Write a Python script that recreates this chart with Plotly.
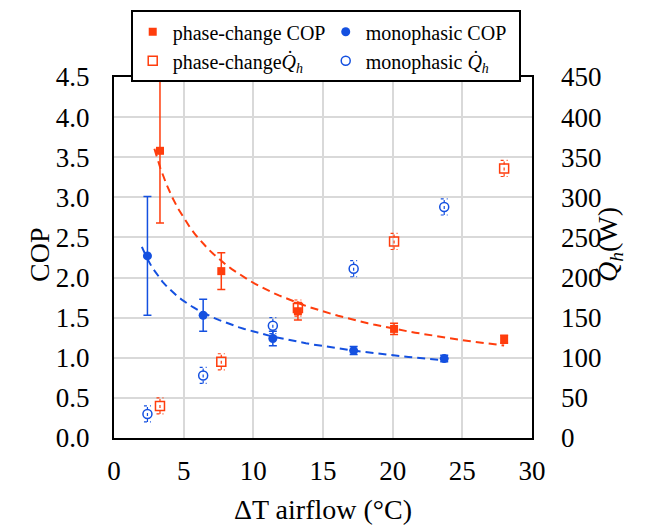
import numpy as np
import plotly.graph_objects as go

# ---- data ----
pc_dT = [3.3, 7.7, 13.2, 20.1, 28.0]
pc_cop = [3.58, 2.08, 1.58, 1.36, 1.23]
pc_cop_err = [0.90, 0.23, 0.11, 0.07, 0.05]
pc_q = [40, 95, 162, 245, 336]
pc_q_err = [10, 10, 10, 10, 10]

mo_dT = [2.4, 6.4, 11.4, 17.2, 23.7]
mo_cop = [2.27, 1.53, 1.24, 1.09, 0.99]
mo_cop_err = [0.74, 0.20, 0.09, 0.05, 0.04]
mo_q = [30, 78, 140, 211, 288]
mo_q_err = [10, 10, 10, 10, 10]

x_ticks = [0, 5, 10, 15, 20, 25, 30]

RED = "#FF3D0D"
BLUE = "#1450E0"
FONT = "Liberation Serif, Times New Roman, DejaVu Serif, serif"

fig = go.Figure()


def power_fit(x, y, back=0.4):
    b, ln_a = np.polyfit(np.log(x), np.log(y), 1)
    xs = np.linspace(x[0] - back, x[-1], 60)
    return xs, np.exp(ln_a) * xs ** b


def dotted_err(x, y, e, cap=0.25):
    xs, ys = [], []
    for xi, yi, ei in zip(x, y, e):
        xs += [xi, xi, None, xi - cap, xi + cap, None, xi - cap, xi + cap, None]
        ys += [yi - ei, yi + ei, None, yi + ei, yi + ei, None, yi - ei, yi - ei, None]
    return xs, ys


# trend lines
for x, y, c in [(pc_dT, pc_cop, RED), (mo_dT, mo_cop, BLUE)]:
    xs, ys = power_fit(x, y)
    fig.add_trace(go.Scatter(x=xs, y=ys, mode="lines", showlegend=False,
                             line=dict(color=c, width=2, dash="8px,5px"),
                             hoverinfo="skip"))

# dotted error bars for heat
for x, y, e, c in [(pc_dT, pc_q, pc_q_err, RED), (mo_dT, mo_q, mo_q_err, BLUE)]:
    xs, ys = dotted_err(x, y, e)
    fig.add_trace(go.Scatter(x=xs, y=ys, yaxis="y2", mode="lines", showlegend=False,
                             line=dict(color=c, width=1.2, dash="dot"), hoverinfo="skip"))

fig.add_trace(go.Scatter(
    x=pc_dT, y=pc_cop, mode="markers", name="phase-change COP",
    marker=dict(symbol="square", size=8, color=RED),
    error_y=dict(type="data", array=pc_cop_err, color=RED, thickness=1.5, width=4)))
fig.add_trace(go.Scatter(
    x=mo_dT, y=mo_cop, mode="markers", name="monophasic COP",
    marker=dict(symbol="circle", size=9, color=BLUE),
    error_y=dict(type="data", array=mo_cop_err, color=BLUE, thickness=1.5, width=4)))
fig.add_trace(go.Scatter(
    x=pc_dT, y=pc_q, yaxis="y2", mode="markers",
    name="phase-change<i>Q̇</i><sub><i>h</i></sub>",
    marker=dict(symbol="square-open", size=9, color=RED, line=dict(width=1.5))))
fig.add_trace(go.Scatter(
    x=mo_dT, y=mo_q, yaxis="y2", mode="markers",
    name="monophasic <i>Q̇</i><sub><i>h</i></sub>",
    marker=dict(symbol="circle-open", size=9, color=BLUE, line=dict(width=1.5))))

fig.update_layout(
    width=656, height=525,
    margin=dict(l=114, r=124, t=77, b=87, autoexpand=False),
    paper_bgcolor="white", plot_bgcolor="white",
    font=dict(family=FONT, color="black", size=27),
    xaxis=dict(range=[0, 30], tickvals=x_ticks, showgrid=True, gridcolor="#D9D9D9",
               gridwidth=1.5, zeroline=False, showline=True, linecolor="black",
               linewidth=2, mirror=True, ticks="", ticklabelstandoff=8,
               automargin=False,
               tickfont=dict(family=FONT, size=27),
               title=dict(text="ΔT airflow (°C)", font=dict(family=FONT, size=28),
                          standoff=18)),
    yaxis=dict(range=[0, 4.5], dtick=0.5, tickformat=".1f", showgrid=True,
               gridcolor="#D9D9D9", gridwidth=1.5, zeroline=False, showline=True,
               linecolor="black", linewidth=2, mirror=True, ticks="",
               automargin=False,
               ticklabelstandoff=17, tickfont=dict(family=FONT, size=27)),
    yaxis2=dict(range=[0, 450], dtick=50, overlaying="y", side="right",
                showgrid=False, zeroline=False, ticks="", ticklabelstandoff=28,
                automargin=False,
                tickfont=dict(family=FONT, size=27)),
    legend=dict(orientation="h", x=0.04, y=1.185, xanchor="left", yanchor="top",
                bordercolor="black", borderwidth=2, bgcolor="white",
                font=dict(family=FONT, size=20), itemwidth=30, entrywidth=148,
                tracegroupgap=0, traceorder="normal"),
    showlegend=True,
    annotations=[
        dict(text="COP", xref="paper", yref="paper", x=-0.177, y=0.507,
             textangle=-90, showarrow=False, xanchor="center", yanchor="middle",
             font=dict(family=FONT, size=28)),
        dict(text="<i>Q̇</i><sub><i>h</i></sub>(W)", xref="paper", yref="paper",
             x=1.187, y=0.535, textangle=-90, showarrow=False,
             xanchor="center", yanchor="middle", font=dict(family=FONT, size=28)),
    ],
)

fig.write_html("out.html", config={"displayModeBar": False},
               post_script="document.body.style.margin='0';")
